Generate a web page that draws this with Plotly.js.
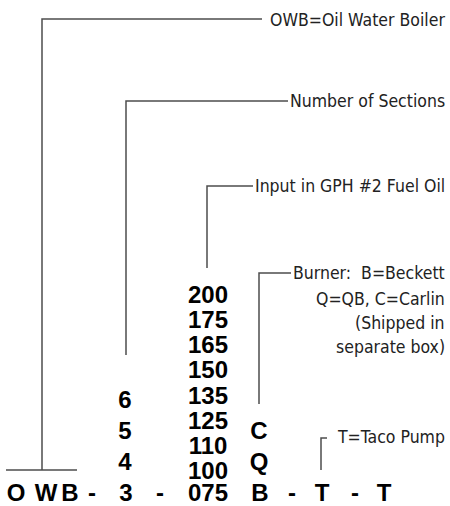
<!DOCTYPE html>
<html><head><meta charset="utf-8">
<script src="https://cdn.plot.ly/plotly-3.0.1.min.js"></script>
<style>html,body{margin:0;padding:0;background:#fff}#c{width:450px;height:506px}</style>
</head><body><div id="c"></div>
<script>
// Callout labels (right aligned)
const calloutLabels = ["OWB=Oil Water Boiler", "Number of Sections", "Input in GPH #2 Fuel Oil",
  "Burner:  B=Beckett", "Q=QB, C=Carlin", "(Shipped in", "separate box)", "T=Taco Pump"];
const calloutY = [20, 101, 186, 273, 299, 323, 347, 437];

// Option columns
const sections = ["6", "5", "4"];
const sectionY = [399, 430, 461];
const inputs = ["200", "175", "165", "150", "135", "125", "110", "100"];
const inputY = [294, 319, 344, 369, 395, 420, 445, 470];
const burners = ["C", "Q"];
const burnerY = [430, 461];

// Model code row
const codeChars = ["O", "W", "B", "-", "3", "-", "075", "B", "-", "T", "-", "T"];
const codeX = [16, 46, 70, 92, 126, 160, 208, 260, 292, 322, 355, 384];
const codeRowY = 494;

// Leader lines (x path, y path)
const leaders = [
  {x: [42, 42, 262], y: [470, 19, 19]},
  {x: [6, 77], y: [470, 470]},
  {x: [126, 126, 288], y: [355, 101, 101]},
  {x: [207, 207, 253], y: [268, 186, 186]},
  {x: [259, 259, 291], y: [404, 273, 273]},
  {x: [321, 321, 327], y: [470, 438, 438]}
];

const traces = leaders.map(l => ({
  type: 'scatter', mode: 'lines', x: l.x, y: l.y,
  line: {color: '#4d4d4d', width: 1.5}, hoverinfo: 'skip', showlegend: false
}));

// Plotly's "middle" text sits a little high for digits; nudge down to center the glyphs
const boldFont = {family: 'Liberation Sans, Arial, sans-serif', size: 24, color: '#000', weight: 'bold'};
function textTrace(labels, xs, ys, nudge) {
  return {type: 'scatter', mode: 'text', x: xs, y: ys.map(v => v + nudge), text: labels,
    textposition: 'middle center', textfont: boldFont, hoverinfo: 'skip', showlegend: false, cliponaxis: false};
}
traces.push(textTrace(sections, sections.map(() => 125), sectionY, 3));
traces.push(textTrace(inputs, inputs.map(() => 208), inputY, 3));
traces.push(textTrace(burners, burners.map(() => 259), burnerY, 3));
traces.push(textTrace(codeChars, codeX, codeChars.map(() => codeRowY), 1));

const labelFont = {family: 'DejaVu Sans Condensed, Roboto, sans-serif', size: 17.5, color: '#222'};
const ann = calloutLabels.map((t, i) => ({text: t, x: 447, y: calloutY[i], xref: 'x', yref: 'y',
  xanchor: 'right', yanchor: 'middle', showarrow: false, font: labelFont}));

Plotly.newPlot('c', traces, {
  width: 450, height: 506, margin: {l: 0, r: 0, t: 0, b: 0},
  paper_bgcolor: '#fff', plot_bgcolor: '#fff',
  xaxis: {range: [0, 450], visible: false, fixedrange: true},
  yaxis: {range: [506, 0], visible: false, fixedrange: true},
  annotations: ann, showlegend: false
}, {staticPlot: true});
</script></body></html>
